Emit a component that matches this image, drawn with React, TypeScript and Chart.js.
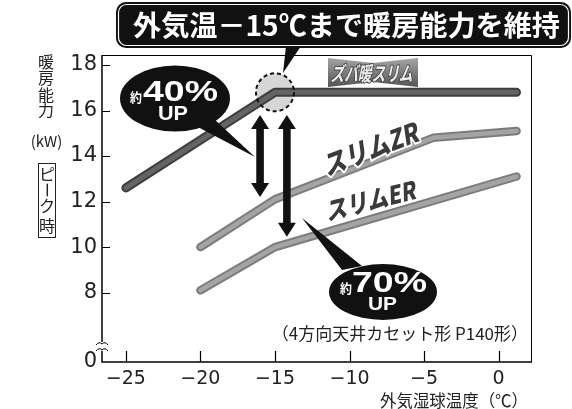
import React, { useEffect, useRef } from 'react';
import { Chart, registerables } from 'chart.js';

Chart.register(...registerables);

// ---- data ----
const zubaTemps = [-25, -15, 1.2];
const zubaKW = [12.6, 16.8, 16.8];
const zrTemps = [-20, -15, -4.4, 1.2];
const zrKW = [10.0, 12.1, 14.8, 15.1];
const erTemps = [-20, -15, 1.2];
const erKW = [8.1, 10.0, 13.1];
const seriesNames = ['ズバ暖スリム', 'スリムZR', 'スリムER'];
const xTicks = [-25, -20, -15, -10, -5, 0];
const yTicks = [8, 10, 12, 14, 16, 18];
const yBreakLabel = '0';
const xRange = [-26.6, 2.17];
const yRange = [4.95, 18.44];
const arrow40 = { x: -16, from: 15.8, to: 12.2 };
const arrow70 = { x: -14.2, from: 15.8, to: 10.45 };
const highlight = { x: -15, y: 16.8 };
const titleText = '外気温－15℃まで暖房能力を維持';
const noteText = '（4方向天井カセット形 P140形）';
const xTitle = '外気湿球温度（℃）';
const yTitleChars = ['暖', '房', '能', '力'];
const yUnit = '(kW)';
const peakChars = ['ピ', 'ー', 'ク', '時'];

const JP = '"Noto Sans CJK JP", "Noto Sans", sans-serif';

const fmt = (v: number) => (v < 0 ? '−' + Math.abs(v) : String(v));

function fitText(ctx: CanvasRenderingContext2D, text: string, cx: number, cy: number, font: string, width: number, color: string, stroke?: { color: string; width: number }, rot = 0, skew = 0) {
  ctx.save();
  ctx.font = font;
  const w = ctx.measureText(text).width;
  ctx.translate(cx, cy);
  if (rot) ctx.rotate(rot);
  if (skew) ctx.transform(1, 0, skew, 1, 0, 0);
  ctx.scale(width / w, 1);
  ctx.textAlign = 'center';
  ctx.textBaseline = 'middle';
  if (stroke) {
    ctx.lineJoin = 'round';
    ctx.strokeStyle = stroke.color;
    ctx.lineWidth = stroke.width;
    ctx.strokeText(text, 0, 0);
  }
  ctx.fillStyle = color;
  ctx.fillText(text, 0, 0);
  ctx.restore();
}

function dblArrow(ctx: CanvasRenderingContext2D, x: number, y1: number, y2: number) {
  const sw = 3.8, hw = 9, hl = 14;
  ctx.beginPath();
  ctx.moveTo(x, y1);
  ctx.lineTo(x + hw, y1 + hl);
  ctx.lineTo(x + sw, y1 + hl);
  ctx.lineTo(x + sw, y2 - hl);
  ctx.lineTo(x + hw, y2 - hl);
  ctx.lineTo(x, y2);
  ctx.lineTo(x - hw, y2 - hl);
  ctx.lineTo(x - sw, y2 - hl);
  ctx.lineTo(x - sw, y1 + hl);
  ctx.lineTo(x - hw, y1 + hl);
  ctx.closePath();
  ctx.fillStyle = '#111';
  ctx.fill();
}

function callout(ctx: CanvasRenderingContext2D, cx: number, cy: number, rx: number, ry: number, tail: number[][]) {
  ctx.fillStyle = '#111';
  ctx.beginPath();
  ctx.moveTo(tail[0][0], tail[0][1]);
  ctx.lineTo(tail[1][0], tail[1][1]);
  ctx.lineTo(tail[2][0], tail[2][1]);
  ctx.closePath();
  ctx.fill();
  ctx.beginPath();
  ctx.ellipse(cx, cy, rx, ry, 0, 0, Math.PI * 2);
  ctx.fill();
}

const decor = {
  id: 'decor',
  beforeDatasetsDraw(chart: any) {
    const { ctx } = chart;
    const xs = chart.scales.x, ys = chart.scales.y;
    const cx = xs.getPixelForValue(highlight.x), cy = ys.getPixelForValue(highlight.y);
    ctx.save();
    ctx.beginPath();
    ctx.arc(cx, cy, 19, 0, Math.PI * 2);
    ctx.fillStyle = '#d6d6d6';
    ctx.fill();
    ctx.restore();
  },
  afterDatasetsDraw(chart: any) {
    const { ctx, chartArea: a } = chart;
    const xs = chart.scales.x, ys = chart.scales.y;
    ctx.save();

    // dashed highlight outline
    const hx = xs.getPixelForValue(highlight.x), hy = ys.getPixelForValue(highlight.y);
    ctx.beginPath();
    ctx.arc(hx, hy, 19, 0, Math.PI * 2);
    ctx.setLineDash([4, 3]);
    ctx.lineWidth = 2;
    ctx.strokeStyle = '#111';
    ctx.stroke();
    ctx.setLineDash([]);

    // frame
    ctx.strokeStyle = '#000';
    ctx.lineWidth = 1;
    ctx.beginPath();
    ctx.moveTo(a.left, a.top + 0.5);
    ctx.lineTo(a.right + 0.5, a.top + 0.5);
    ctx.lineTo(a.right + 0.5, a.bottom);
    ctx.stroke();
    ctx.lineWidth = 1.5;
    ctx.beginPath();
    ctx.moveTo(a.left, a.top);
    ctx.lineTo(a.left, a.bottom);
    ctx.lineTo(a.right + 1, a.bottom);
    ctx.stroke();

    // inward ticks
    ctx.lineWidth = 1.2;
    ctx.beginPath();
    yTicks.forEach((v) => {
      const y = Math.round(ys.getPixelForValue(v)) + 0.5;
      ctx.moveTo(a.left, y);
      ctx.lineTo(a.left + 8, y);
    });
    xTicks.forEach((v) => {
      const x = Math.round(xs.getPixelForValue(v)) + 0.5;
      ctx.moveTo(x, a.bottom);
      ctx.lineTo(x, a.bottom - 11);
    });
    ctx.stroke();

    // axis break
    ctx.fillStyle = '#fff';
    ctx.fillRect(a.left - 3, a.bottom - 20, 6, 9);
    ctx.lineWidth = 1;
    ctx.strokeStyle = '#000';
    [a.bottom - 18, a.bottom - 12].forEach((y) => {
      ctx.beginPath();
      ctx.moveTo(a.left - 6, y + 1);
      ctx.quadraticCurveTo(a.left - 3, y - 3, a.left, y);
      ctx.quadraticCurveTo(a.left + 3, y - 3, a.left + 6, y + 1);
      ctx.stroke();
    });

    // arrows
    dblArrow(ctx, xs.getPixelForValue(arrow40.x), ys.getPixelForValue(arrow40.from), ys.getPixelForValue(arrow40.to));
    dblArrow(ctx, xs.getPixelForValue(arrow70.x), ys.getPixelForValue(arrow70.from), ys.getPixelForValue(arrow70.to));

    // callouts
    callout(ctx, 175, 98.5, 55, 33, [[196, 126], [214, 119], [255, 157]]);
    fitText(ctx, '約', 136, 97, `bold 13px ${JP}`, 12, '#fff');
    fitText(ctx, '40%', 180.5, 92.5, 'bold 30px "Liberation Sans", Arial, sans-serif', 75, '#fff');
    fitText(ctx, 'UP', 173, 114.5, 'bold 21px "Liberation Sans", Arial, sans-serif', 30, '#fff');

    callout(ctx, 383, 292, 54, 28, [[302, 218], [342, 270], [362, 266]]);
    fitText(ctx, '約', 346, 288, `bold 13px ${JP}`, 12, '#fff');
    fitText(ctx, '70%', 389.5, 284, 'bold 30px "Liberation Sans", Arial, sans-serif', 75, '#fff');
    fitText(ctx, 'UP', 382.5, 305, 'bold 19px "Liberation Sans", Arial, sans-serif', 29, '#fff');

    // logos
    ctx.save();
    const g = ctx.createLinearGradient(0, 58, 0, 87);
    g.addColorStop(0, '#a5a5a5');
    g.addColorStop(1, '#555');
    ctx.beginPath();
    ctx.moveTo(328, 58);
    ctx.lineTo(373, 63);
    ctx.lineTo(418, 58);
    ctx.lineTo(418, 87);
    ctx.lineTo(373, 82);
    ctx.lineTo(328, 87);
    ctx.closePath();
    ctx.fillStyle = g;
    ctx.fill();
    ctx.restore();
    fitText(ctx, seriesNames[0], 373, 73, `bold 20px ${JP}`, 82, '#eeeeee', { color: '#444', width: 2 }, 0, -0.2);

    fitText(ctx, seriesNames[1], 372, 148, `900 27px ${JP}`, 100, '#3a3a3a', { color: '#fff', width: 4 }, -0.36, -0.22);
    fitText(ctx, seriesNames[2], 372, 200, `900 25px ${JP}`, 92, '#3a3a3a', { color: '#fff', width: 4 }, -0.24, -0.22);

    // title box
    ctx.fillStyle = '#111';
    ctx.beginPath();
    ctx.roundRect(116, 2, 455, 46, 10);
    ctx.fill();
    ctx.beginPath();
    ctx.moveTo(286, 46);
    ctx.lineTo(301, 46);
    ctx.lineTo(283, 73);
    ctx.closePath();
    ctx.fill();
    ctx.strokeStyle = '#fff';
    ctx.lineWidth = 1.2;
    ctx.beginPath();
    ctx.roundRect(118.5, 4.5, 450, 41, 8);
    ctx.stroke();
    fitText(ctx, titleText, 346.5, 25, `bold 28px ${JP}`, 427, '#fff');

    // note & axis titles
    ctx.fillStyle = '#222';
    ctx.font = `17px ${JP}`;
    ctx.textAlign = 'right';
    ctx.textBaseline = 'middle';
    ctx.fillText(noteText, 528, 334);
    fitText(ctx, xTitle, 454, 401, `17px ${JP}`, 148, '#222');

    ctx.textAlign = 'center';
    ctx.fillStyle = '#222';
    ctx.font = `16px ${JP}`;
    const tys = [62, 78, 95, 110];
    yTitleChars.forEach((c, i) => ctx.fillText(c, 46, tys[i]));
    ctx.font = `15px ${JP}`;
    ctx.fillText(yUnit, 46.5, 141);
    ctx.strokeStyle = '#222';
    ctx.lineWidth = 1;
    ctx.strokeRect(38.5, 163.5, 17, 74);
    ctx.font = `16px ${JP}`;
    const pys = [174, 190, 206, 226];
    peakChars.forEach((c, i) => {
      if (c === 'ー') {
        ctx.save();
        ctx.translate(47, pys[i]);
        ctx.rotate(Math.PI / 2);
        ctx.fillText(c, 0, 0);
        ctx.restore();
      } else {
        ctx.fillText(c, 47, pys[i]);
      }
    });

    ctx.restore();
  },
};

function mk(label: string, xsArr: number[], ysArr: number[], color: string, width: number, order: number) {
  return {
    label,
    data: xsArr.map((x, i) => ({ x, y: ysArr[i] })),
    borderColor: color,
    borderWidth: width,
    borderCapStyle: 'round' as const,
    borderJoinStyle: 'round' as const,
    pointRadius: 0,
    fill: false,
    tension: 0,
    order,
  };
}

export default function App() {
  const ref = useRef<HTMLCanvasElement>(null);
  useEffect(() => {
    const canvas = ref.current!;
    const chart = new Chart(canvas, {
      type: 'line',
      data: {
        datasets: [
          mk(seriesNames[0], zubaTemps, zubaKW, '#3e3e3e', 9, 6),
          mk(seriesNames[0], zubaTemps, zubaKW, '#646464', 5, 5),
          mk(seriesNames[1], zrTemps, zrKW, '#7c7c7c', 8.5, 4),
          mk(seriesNames[1], zrTemps, zrKW, '#a4a4a4', 4.5, 3),
          mk(seriesNames[2], erTemps, erKW, '#7c7c7c', 8.5, 2),
          mk(seriesNames[2], erTemps, erKW, '#a4a4a4', 4.5, 1),
        ],
      },
      options: {
        animation: false,
        responsive: false,
        layout: { padding: { top: 55, right: 41, left: 0, bottom: 0 } },
        plugins: { legend: { display: false }, tooltip: { enabled: false } },
        scales: {
          x: {
            type: 'linear',
            min: xRange[0],
            max: xRange[1],
            afterBuildTicks: (s: any) => {
              s.ticks = xTicks.map((v) => ({ value: v }));
            },
            afterFit: (s: any) => {
              s.height = 47;
            },
            grid: { display: false, drawTicks: false },
            border: { display: false },
            ticks: {
              callback: (v: any) => fmt(Number(v)),
              font: { family: 'DejaVu Sans', size: 19 },
              color: '#222',
              padding: 6,
              maxRotation: 0,
              autoSkip: false,
            },
          },
          y: {
            type: 'linear',
            min: yRange[0],
            max: yRange[1],
            afterBuildTicks: (s: any) => {
              s.ticks = [yRange[0], ...yTicks].map((v) => ({ value: v }));
            },
            afterFit: (s: any) => {
              s.width = 102;
            },
            grid: { display: false, drawTicks: false },
            border: { display: false },
            ticks: {
              callback: (v: any) => (Number(v) === yRange[0] ? yBreakLabel : String(v)),
              font: { family: 'DejaVu Sans', size: 21 },
              color: '#222',
              padding: 5,
              autoSkip: false,
            },
          },
        },
      },
      plugins: [decor],
    });
    return () => chart.destroy();
  }, []);
  return (
    <div style={{ position: 'fixed', left: 0, top: 0, width: 572, height: 409, background: '#fff' }}>
      <canvas ref={ref} width={572} height={409} style={{ display: 'block', width: 572, height: 409 }} />
    </div>
  );
}
